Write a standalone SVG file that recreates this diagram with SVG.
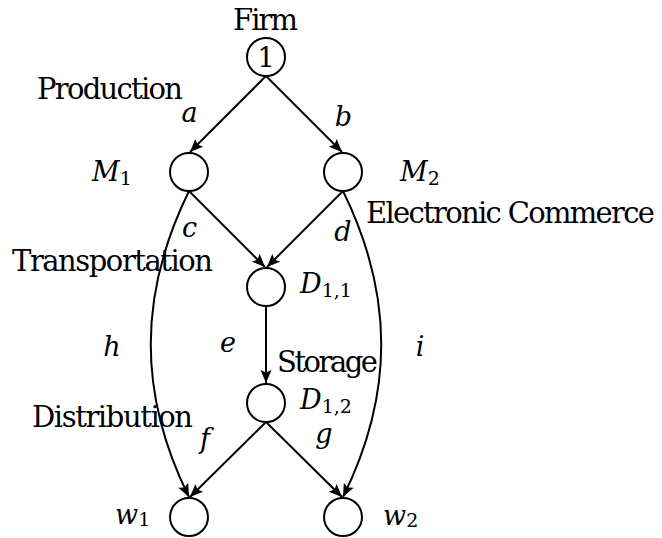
<svg xmlns="http://www.w3.org/2000/svg" width="662" height="538" viewBox="0 0 662 538">
<style>
.node{fill:#fff;stroke:#000;stroke-width:2}
.edge{fill:none;stroke:#000;stroke-width:2}
.lbl{font-family:'DejaVu Serif','Liberation Serif',serif;font-size:29px;fill:#000}
.math{font-family:'DejaVu Serif','Liberation Serif',serif;font-size:27px;font-style:italic;fill:#000}
.sub{font-style:normal;font-size:19px}
.num{font-family:'DejaVu Serif','Liberation Serif',serif;font-size:27px;fill:#000}
</style>
<defs>
<marker id="arr" markerUnits="userSpaceOnUse" markerWidth="16" markerHeight="12" viewBox="-14 -6 16 12" refX="0" refY="0" orient="auto">
<path d="M0,0 L-13,-5.5 L-10.5,0 L-13,5.5 Z" fill="#000"/>
</marker>
</defs>
<g id="connectors">
<path class="edge" d="M266,76 L190,152" marker-end="url(#arr)"/>
<path class="edge" d="M266,76 L342,152" marker-end="url(#arr)"/>
<path class="edge" d="M189,191 L265,267" marker-end="url(#arr)"/>
<path class="edge" d="M343,191 L267,267" marker-end="url(#arr)"/>
<path class="edge" d="M266,306 L266,383" marker-end="url(#arr)"/>
<path class="edge" d="M266,422 L190,497" marker-end="url(#arr)"/>
<path class="edge" d="M266,422 L342,497" marker-end="url(#arr)"/>
<path class="edge" d="M189,191 C138,295 138,394 189,497" marker-end="url(#arr)"/>
<path class="edge" d="M343,191 C394,295 394,394 343,497" marker-end="url(#arr)"/>
</g>
<g id="n1"><circle class="node" cx="266" cy="57" r="19"/><text class="num" x="266" y="67" text-anchor="middle">1</text></g>
<g id="nM1"><circle class="node" cx="189" cy="172" r="19"/></g>
<g id="nM2"><circle class="node" cx="343" cy="172" r="19"/></g>
<g id="nD11"><circle class="node" cx="266" cy="287" r="19"/></g>
<g id="nD12"><circle class="node" cx="266" cy="403" r="19"/></g>
<g id="nw1"><circle class="node" cx="189" cy="517" r="19"/></g>
<g id="nw2"><circle class="node" cx="343" cy="517" r="19"/></g>
<g id="labels">
<text class="lbl" x="233" y="30" textLength="65">Firm</text>
<text class="lbl" x="37" y="99" textLength="146">Production</text>
<text class="lbl" x="366" y="223" textLength="289">Electronic Commerce</text>
<text class="lbl" x="12" y="271" textLength="201">Transportation</text>
<text class="lbl" x="277" y="372" textLength="101">Storage</text>
<text class="lbl" x="32" y="427" textLength="161">Distribution</text>
<text class="math" x="189.5" y="122" text-anchor="middle">a</text>
<text class="math" x="343.5" y="126" text-anchor="middle">b</text>
<text class="math" x="189.5" y="237" text-anchor="middle">c</text>
<text class="math" x="343" y="241" text-anchor="middle">d</text>
<text class="math" x="228" y="352" text-anchor="middle">e</text>
<text class="math" x="112" y="356" text-anchor="middle">h</text>
<text class="math" x="420" y="356" text-anchor="middle">i</text>
<text class="math" x="205" y="448" text-anchor="middle">f</text>
<text class="math" x="324" y="443" text-anchor="middle">g</text>
<text class="math" x="92" y="181">M<tspan class="sub" dy="4">1</tspan></text>
<text class="math" x="400" y="181">M<tspan class="sub" dy="4">2</tspan></text>
<text class="math" x="300" y="293">D<tspan class="sub" dy="4">1,1</tspan></text>
<text class="math" x="300" y="409">D<tspan class="sub" dy="4">1,2</tspan></text>
<text class="math" x="115" y="524">w<tspan class="sub" dy="2">1</tspan></text>
<text class="math" x="383" y="525">w<tspan class="sub" dy="2">2</tspan></text>
</g>
</svg>
